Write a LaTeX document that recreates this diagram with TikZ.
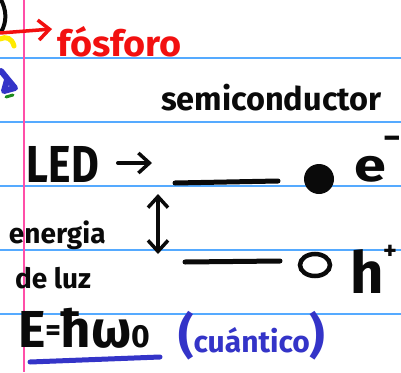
\documentclass[tikz,border=0pt]{standalone}
\usepackage{fontspec}
\setmainfont{Fira Sans}
\usetikzlibrary{arrows.meta}
\definecolor{rulecol}{HTML}{55AAFF}
\definecolor{margincol}{HTML}{FF4FA8}
\definecolor{ink}{HTML}{0A0A0A}
\definecolor{redink}{HTML}{F21010}
\definecolor{blueink}{HTML}{3434C8}
\definecolor{yellowink}{HTML}{FFEA00}
\definecolor{greenink}{HTML}{1E8C1E}
\newcommand{\fs}[1]{\fontsize{#1}{#1}\selectfont}
\begin{document}
\begin{tikzpicture}[x=1pt,y=-1pt,
  hand/.style={inner sep=0pt, outer sep=0pt, anchor=base west, font=\bfseries},
  pen/.style={line width=4pt, line cap=round, line join=round},
  barbtip/.tip={Straight Barb[length=11pt,width=20pt,line width=3.5pt]},
  level/.style={ink, line width=5pt, line cap=round}]
\useasboundingbox (0,0) rectangle (401,372);
\fill[white] (0,0) rectangle (401,372);
% ruled paper
\foreach \y in {58,122,186,250,314}
  \draw[rulecol, line width=1.6pt] (0,\y) -- (401,\y);
\draw[margincol, line width=1.6pt] (24,0) -- (24,372);

% marks along the left edge
\draw[ink, line width=4pt] (0,-2) .. controls (7,10) and (7,22) .. (1,32);
\draw[yellowink, line width=5pt, line cap=round] (0,39) .. controls (6,36) and (12,38) .. (14,46);
\draw[blueink, line width=6pt, line join=round, line cap=round] (1,71) -- (15,88) -- (4,91) -- (7,80);
\draw[greenink, line width=3pt, line cap=round] (6,97) -- (13,95);

% phosphor label
\node[hand, text=redink] (fosforo) at (57,56) {\fs{36}\scalebox{1.05}[1]{fósforo}};
\coordinate (redtail) at (0,33);
\coordinate (redtip) at (52,29);
\draw[redink, line width=3.5pt, line cap=round, -barbtip] (redtail) -- (redtip);

% semiconductor and its two levels
\node[hand, text=ink] (semi) at (161,110) {\fs{32.5}semiconductor};
\node[hand, text=ink] (led) at (27,182) {\fs{52}\scalebox{0.82}[1]{LED}};
\coordinate (ledtail) at (118,163);
\coordinate (ledtip) at (152,163);
\draw[ink, pen, -barbtip] (ledtail) -- (ledtip);

\coordinate (cb1) at (175,183);
\coordinate (cb2) at (278,181);
\coordinate (vb1) at (185,262);
\coordinate (vb2) at (280,261);
\draw[level] (cb1) -- (cb2);
\draw[level] (vb1) -- (vb2);

\node[circle, fill=ink, minimum size=30pt, inner sep=0pt] (electron) at (319,179) {};
\coordinate (hole) at (315,265);
\draw[ink, line width=4.5pt] (hole) ellipse [x radius=15, y radius=11];

\node[hand, text=ink] (elabel) at (354,181) {\fs{46}\scalebox{1.25}[1]{e}};
\node[hand, text=ink] (eminus) at (383,149) {\fs{34}−};
\node[hand, text=ink] (hlabel) at (350,293) {\fs{58}h};
\node[hand, text=ink] (hplus) at (383,259) {\fs{26}+};

% energy gap
\coordinate (gaptop) at (158,194);
\coordinate (gapbot) at (158,254);
\draw[ink, pen, barbtip-barbtip] (gaptop) -- (gapbot);

\node[hand, text=ink] (energia) at (9,243) {\fs{28}energia};
\node[hand, text=ink] (deluz) at (15,288) {\fs{28}de luz};

% photon energy
\node[hand, text=ink] (eq) at (18,347) {\fs{52}E\raisebox{7pt}{\fs{30}=}ħω{\fs{32}0}};
\coordinate (ul1) at (30,362);
\coordinate (ul2) at (160,357);
\draw[blueink, line width=5pt, line cap=round] (ul1) -- (ul2);
\node[hand, text=blueink] (cuantico) at (178,352) {\fs{30}{\fs{48}(}cuántico{\fs{48})}};
\end{tikzpicture}
\end{document}
